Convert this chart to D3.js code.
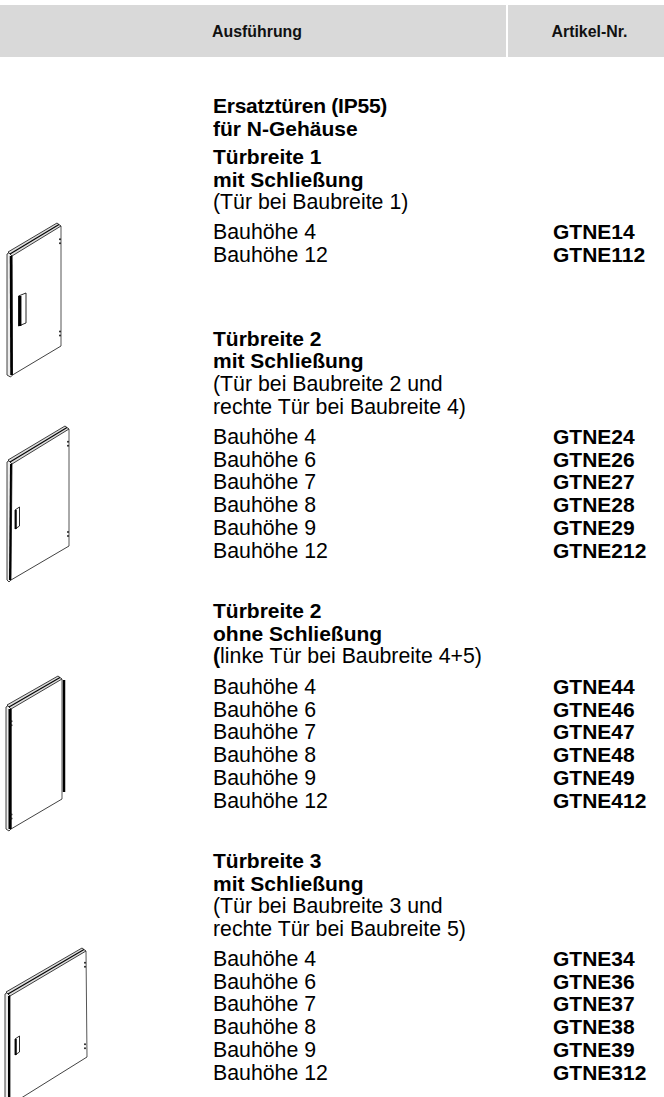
<!DOCTYPE html>
<meta charset="utf-8" />
<script src="https://d3js.org/d3.v7.min.js"></script>
<style>
  html, body { margin: 0; background: #fff; }
  svg { display: block; font-family: "Liberation Sans", Arial, sans-serif; }
</style>
<body>
<script>
  // header
  const headers = ["Ausführung", "Artikel-Nr."];

  // text blocks, bold and normal lines
  const introLines = ["Ersatztüren (IP55)", "für N-Gehäuse"];
  const groupBold = [
    ["Türbreite 1", "mit Schließung"],
    ["Türbreite 2", "mit Schließung"],
    ["Türbreite 2", "ohne Schließung"],
    ["Türbreite 3", "mit Schließung"],
  ];
  const groupNote = [
    ["(Tür bei Baubreite 1)"],
    ["(Tür bei Baubreite 2 und", "rechte Tür bei Baubreite 4)"],
    ["(linke Tür bei Baubreite 4+5)"],
    ["(Tür bei Baubreite 3 und", "rechte Tür bei Baubreite 5)"],
  ];
  const groupHeights = [
    [4, 12],
    [4, 6, 7, 8, 9, 12],
    [4, 6, 7, 8, 9, 12],
    [4, 6, 7, 8, 9, 12],
  ];
  const groupArticles = [
    ["GTNE14", "GTNE112"],
    ["GTNE24", "GTNE26", "GTNE27", "GTNE28", "GTNE29", "GTNE212"],
    ["GTNE44", "GTNE46", "GTNE47", "GTNE48", "GTNE49", "GTNE412"],
    ["GTNE34", "GTNE36", "GTNE37", "GTNE38", "GTNE39", "GTNE312"],
  ];

  const width = 664, height = 1097;
  const svg = d3.select("body").append("svg").attr("width", width).attr("height", height);

  // layout
  const colText = 213, colArt = 553;
  const boldSize = 21, normalSize = 21.3;
  const lineH = 22.7;
  const groupTop = [164, 345.5, 618, 868]; // first baseline of each group
  const tableTop = [239, 444, 694, 966]; // first Bauhöhe baseline

  // header band
  svg.append("rect").attr("x", 0).attr("y", 5).attr("width", 506).attr("height", 52).attr("fill", "#d9d9d9");
  svg.append("rect").attr("x", 508).attr("y", 5).attr("width", 156).attr("height", 52).attr("fill", "#d9d9d9");
  svg.append("text").text(headers[0]).attr("x", colText - 1).attr("y", 37)
    .attr("font-size", 15.9).attr("font-weight", "bold").attr("fill", "#111");
  svg.append("text").text(headers[1]).attr("x", 551.5).attr("y", 37)
    .attr("font-size", 15.9).attr("font-weight", "bold").attr("fill", "#111");

  function addLine(txt, x, y, bold) {
    return svg.append("text").text(txt).attr("x", x).attr("y", y)
      .attr("font-size", bold ? boldSize : normalSize).attr("font-weight", bold ? "bold" : "normal").attr("fill", "#000");
  }

  introLines.forEach((l, i) => {
    const t = addLine(l, colText, 113 + i * lineH, true);
    if (i === 0) t.attr("letter-spacing", -0.25);
  });

  groupBold.forEach((bold, g) => {
    bold.forEach((l, i) => addLine(l, colText, groupTop[g] + i * lineH, true));
    groupNote[g].forEach((l, i) => {
      const t = addLine("", colText, groupTop[g] + (2 + i) * lineH, false);
      // the bracket of the linke Tür note is set bold in the original
      if (l.startsWith("(linke")) {
        t.append("tspan").attr("font-weight", "bold").text("(");
        t.append("tspan").text(l.slice(1));
      } else {
        t.text(l);
      }
    });
    groupHeights[g].forEach((h, i) => {
      const y = tableTop[g] + i * lineH;
      addLine("Bauhöhe " + h, colText, y, false);
      addLine(groupArticles[g][i], colArt, y, true);
    });
  });

  // door drawings
  const doors = [
    { tl: [10, 255], tr: [61, 226], br: [61, 346], bl: [10.5, 375], handle: [18.5, 293, 7.5, 33], hinge: "right", edge: 2.5 },
    { tl: [10, 463], tr: [69, 429], br: [69, 546], bl: [9, 580], handle: [15, 507, 4.5, 22], hinge: "right", edge: 2 },
    { tl: [9, 708], tr: [62, 679], br: [62, 799], bl: [9, 829], handle: null, hinge: "left", edge: 3 },
    { tl: [8, 995], tr: [86, 951], br: [87, 1057], bl: [8, 1105], handle: [15, 1036, 4.5, 19], hinge: "right", edge: 2 },
  ];
  const line = d3.line();

  doors.forEach((d) => {
    const g = svg.append("g").attr("fill", "none").attr("stroke", "#111");
    const left = d.tl[0] - 3;
    // left edge strip
    g.append("path").attr("d", line([[left, d.tl[1] - 1], [d.tl[0], d.tl[1] - 3], [d.tl[0] + 2, d.tl[1]], [d.bl[0] + 2, d.bl[1]], [d.bl[0], d.bl[1] + 2], [left, d.bl[1]]]) + "Z")
      .attr("fill", "#eee").attr("stroke-width", 0.8);
    g.append("line").attr("x1", d.tl[0] + 1).attr("y1", d.tl[1] + 1).attr("x2", d.bl[0] + 1).attr("y2", d.bl[1])
      .attr("stroke-width", d.edge).attr("stroke", "#000");
    // right and bottom edge of the front panel
    g.append("line").attr("x1", d.tr[0]).attr("y1", d.tr[1]).attr("x2", d.br[0]).attr("y2", d.br[1]).attr("stroke", "#555").attr("stroke-width", 1);
    g.append("line").attr("x1", d.br[0]).attr("y1", d.br[1]).attr("x2", d.bl[0] + 2).attr("y2", d.bl[1]).attr("stroke-width", 0.8);
    // top edge, a narrow band with a dark inner line
    g.append("path").attr("d", line([[d.tl[0] - 2, d.tl[1] - 3], [d.tr[0] - 4, d.tr[1] - 3], [d.tr[0], d.tr[1]], [d.tl[0] + 2, d.tl[1] + 1]]) + "Z")
      .attr("fill", "#ddd").attr("stroke-width", 0.8);
    g.append("line").attr("x1", d.tl[0]).attr("y1", d.tl[1] - 1).attr("x2", d.tr[0] - 2).attr("y2", d.tr[1] - 1.5)
      .attr("stroke-width", 1.1).attr("stroke", "#000");
    // handle
    if (d.handle) {
      const [hx, hy, hw, hh] = d.handle;
      g.append("path").attr("d", line([[hx, hy + 3], [hx + hw, hy], [hx + hw, hy + hh - 3], [hx, hy + hh]]) + "Z")
        .attr("fill", "#fff").attr("stroke-width", 0.9);
      g.append("line").attr("x1", hx + hw * 0.2).attr("y1", hy + 3).attr("x2", hx + hw * 0.2).attr("y2", hy + hh)
        .attr("stroke", "#000").attr("stroke-width", hw * 0.38);
    }
    // hinge marks
    const hx = d.hinge === "right" ? d.tr[0] - 1 : d.tl[0] + 2.5;
    const y0 = d.hinge === "right" ? d.tr[1] : d.tl[1];
    const y1 = d.hinge === "right" ? d.br[1] : d.bl[1];
    [y0 + 0.11 * (y1 - y0), y0 + 0.88 * (y1 - y0)].forEach((y) => {
      g.append("circle").attr("cx", hx).attr("cy", y).attr("r", 1).attr("fill", "#222").attr("stroke", "none");
      g.append("circle").attr("cx", hx).attr("cy", y + 4).attr("r", 1).attr("fill", "#222").attr("stroke", "none");
    });
  });

  // black strip on the right side of the door without lock
  svg.append("line").attr("x1", 64).attr("y1", 680).attr("x2", 64).attr("y2", 792)
    .attr("stroke", "#000").attr("stroke-width", 2.5);
</script>
</body>
